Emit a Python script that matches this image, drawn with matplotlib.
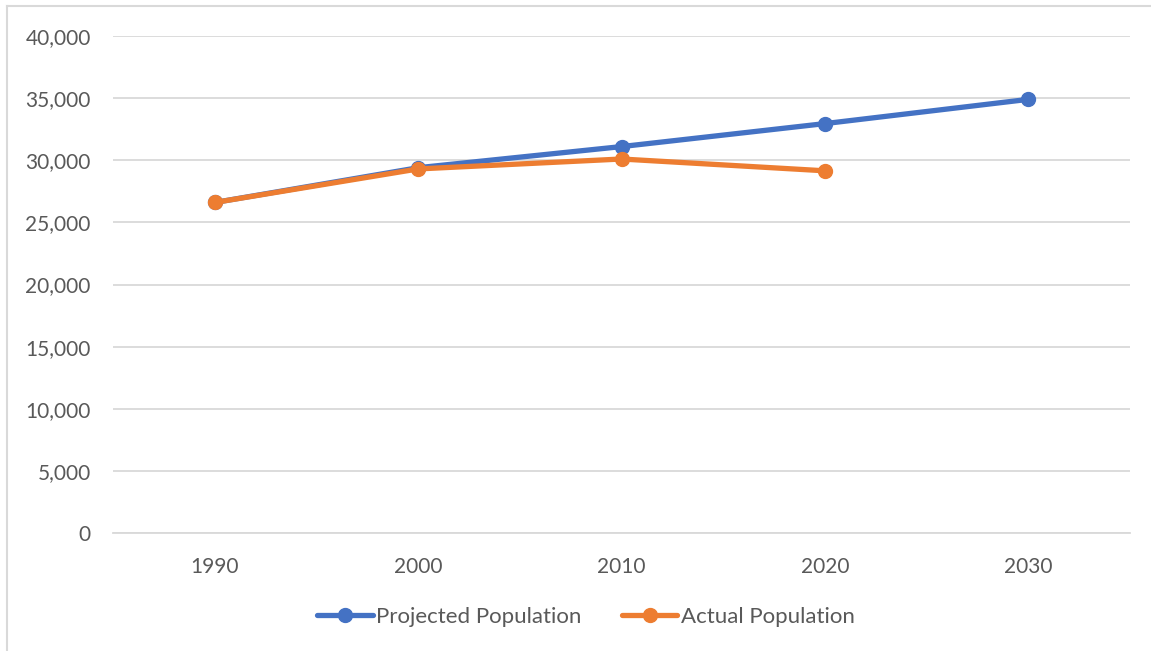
import matplotlib
matplotlib.use("Agg")
import matplotlib.pyplot as plt
from matplotlib.lines import Line2D
from matplotlib.ticker import FuncFormatter

years = ["1990", "2000", "2010", "2020", "2030"]
projected = [26600, 29400, 31100, 32950, 34900]
actual = [26600, 29300, 30100, 29150]

BLUE = "#4472C4"
ORANGE = "#ED7D31"
GRID = "#D9D9D9"
TEXT = "#595959"

plt.rcParams["font.family"] = ["Lato", "DejaVu Sans"]

W, H = 1151, 651
fig = plt.figure(figsize=(W / 100, H / 100), dpi=100)
ax = fig.add_axes([113 / W, (H - 533) / H, (1130 - 113) / W, (533 - 36) / H])

x_proj = list(range(len(projected)))
x_act = list(range(len(actual)))
ax.plot(x_proj, projected, color=BLUE, lw=3.8, marker="o", ms=10,
        solid_capstyle="round", label="Projected Population", zorder=3)
ax.plot(x_act, actual, color=ORANGE, lw=3.8, marker="o", ms=10,
        solid_capstyle="round", label="Actual Population", zorder=4)

ax.set_xlim(-0.5, len(years) - 0.5)
ax.set_ylim(0, 40000)
ax.set_xticks(range(len(years)))
ax.set_xticklabels(years)
ax.set_yticks(range(0, 40001, 5000))
ax.yaxis.set_major_formatter(FuncFormatter(lambda v, _: f"{int(v):,}"))
ax.grid(axis="y", color=GRID, lw=1.3)
ax.set_axisbelow(True)
for s in ax.spines.values():
    s.set_visible(False)
ax.spines["bottom"].set_visible(True)
ax.spines["bottom"].set_color(GRID)
ax.spines["bottom"].set_linewidth(1.3)
ax.tick_params(length=0, labelsize=15, labelcolor=TEXT)
ax.tick_params(axis="y", pad=16)
ax.tick_params(axis="x", pad=17)

handles = [
    Line2D([], [], color=BLUE, lw=3.8, marker="o", ms=10, solid_capstyle="round"),
    Line2D([], [], color=ORANGE, lw=3.8, marker="o", ms=10, solid_capstyle="round"),
]
fig.legend(handles, ["Projected Population", "Actual Population"],
           loc="center", bbox_to_anchor=(586 / W, 1 - 617 / H), ncol=2,
           frameon=False, fontsize=16, labelcolor=TEXT, handlelength=2.5,
           handletextpad=0.15, columnspacing=1.8)

# chart frame: only top and left edges remain
fig.add_artist(Line2D([7 / W, 1.0], [1 - 6 / H, 1 - 6 / H], color=GRID, lw=1.5))
fig.add_artist(Line2D([7 / W, 7 / W], [0, 1 - 6 / H], color=GRID, lw=1.5))

fig.savefig("out.png", dpi=100)
